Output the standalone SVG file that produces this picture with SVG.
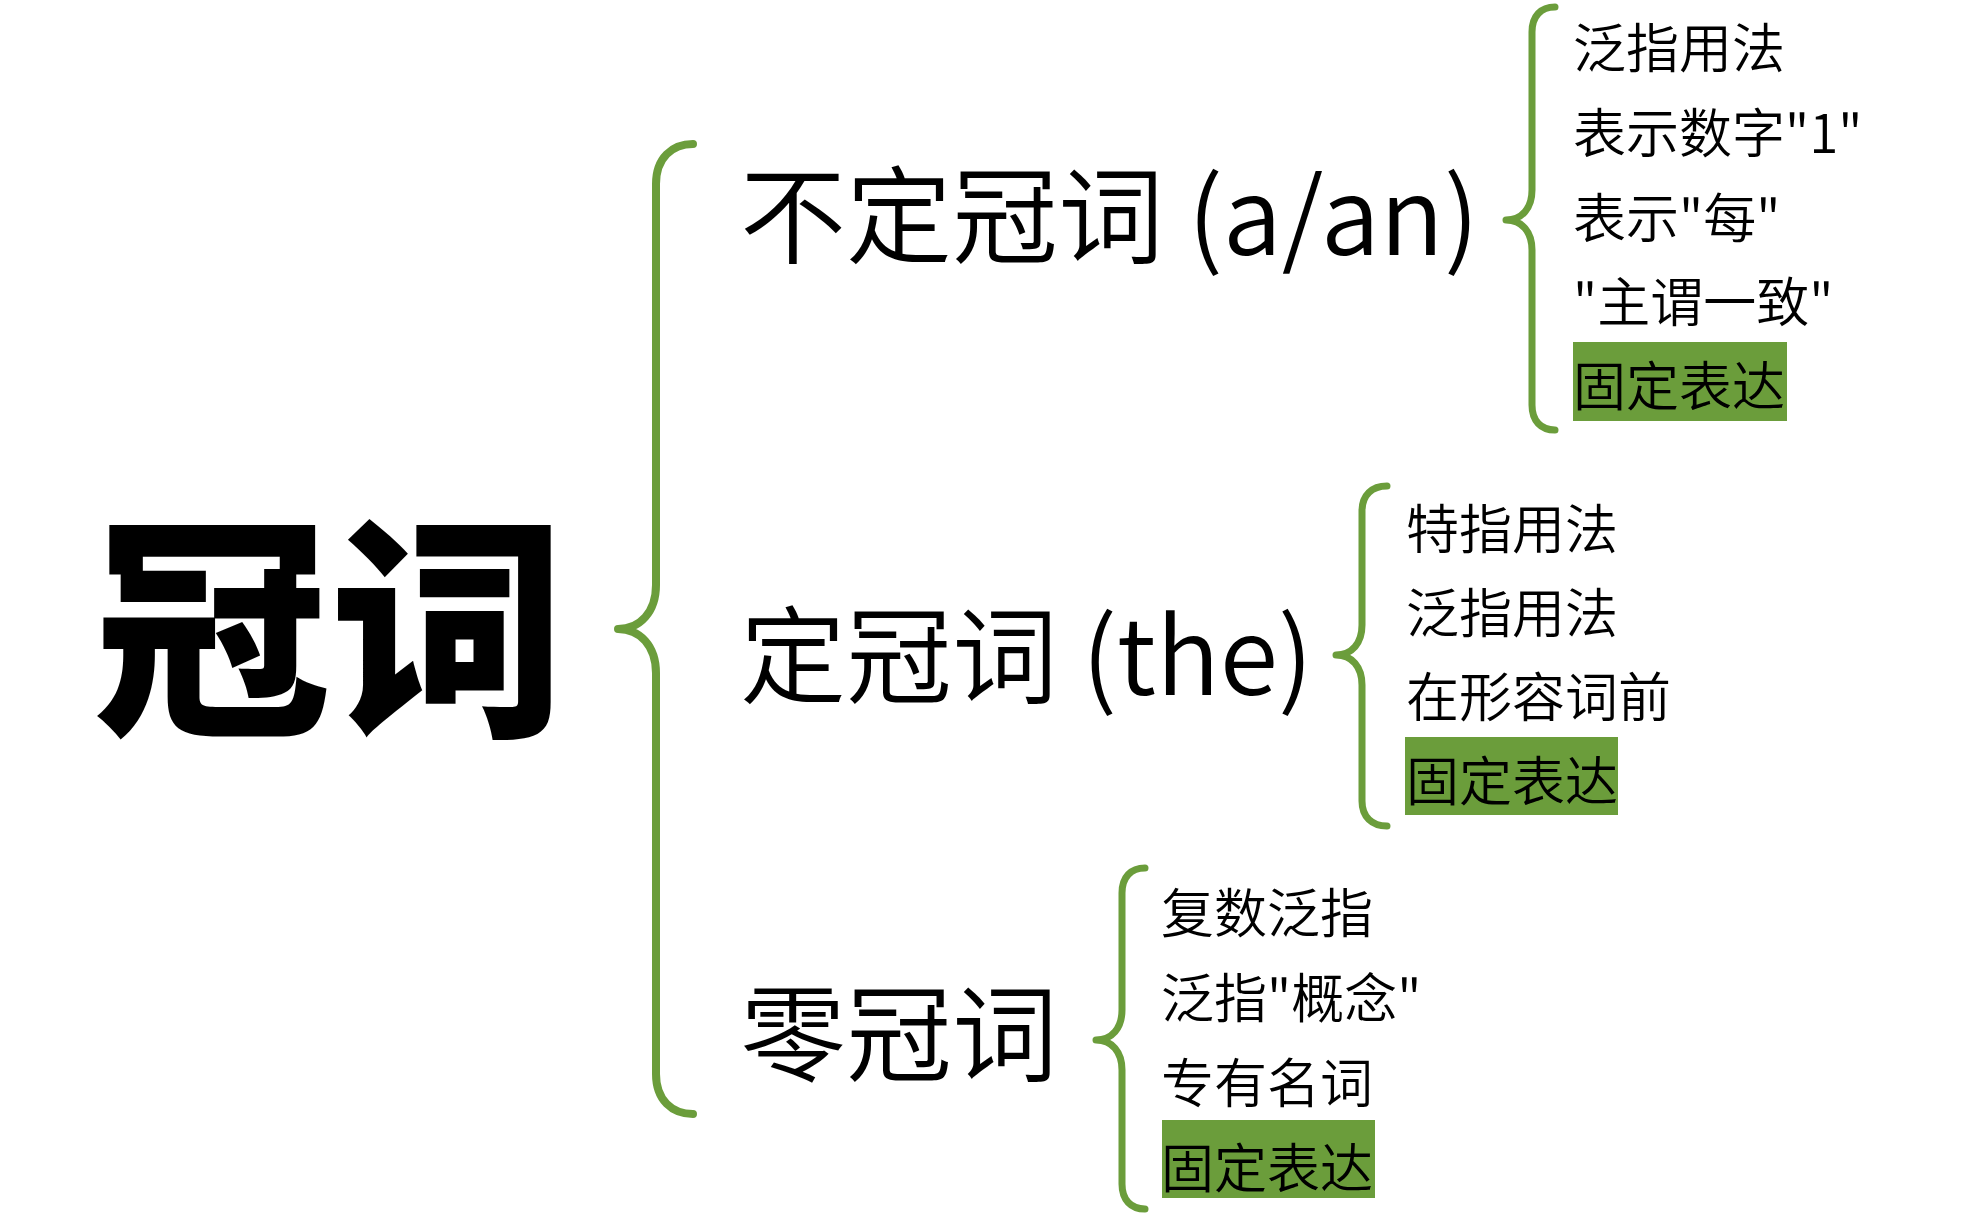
<svg xmlns="http://www.w3.org/2000/svg" width="1973" height="1225" viewBox="0 0 1973 1225">
<style>
.cjk{font-family:"Noto Sans CJK SC","Noto Sans",sans-serif;fill:#000;}
.root{font-size:236px;font-weight:900;}
.cat{font-size:106px;font-weight:350;}
.item{font-size:53px;font-weight:350;}
.hl{fill:#6B9D3B;}
.brace{fill:none;stroke:#6B9D3B;stroke-linecap:round;stroke-linejoin:round;}
.main{stroke-width:8;}
.sub{stroke-width:7;}
</style>
<rect width="1973" height="1225" fill="#fff"/>
<g id="connectors">
<path class="brace main" d="M693,144 C672,144 656,158 656,184 L656,585 C656,612 640,629 618,629 C640,629 656,646 656,673 L656,1074 C656,1100 672,1114 693,1114"/>
<path class="brace sub" d="M1555,7 C1541,7 1532,16 1532,32 L1532,190 C1532,208 1522,220 1506,220 C1522,220 1532,232 1532,250 L1532,405 C1532,421 1541,430 1555,430"/>
<path class="brace sub" d="M1387,486 C1372,486 1362,495 1362,511 L1362,625 C1362,643 1352,655 1336,655 C1352,655 1362,667 1362,685 L1362,801 C1362,817 1372,826 1387,826"/>
<path class="brace sub" d="M1145,868 C1131,868 1122,877 1122,893 L1122,1010 C1122,1028 1112,1040 1096,1040 C1112,1040 1122,1052 1122,1070 L1122,1184 C1122,1200 1131,1209 1145,1209"/>
</g>
<g id="root">
<text class="cjk root" x="94" y="718">冠词</text>
</g>
<g id="indefinite">
<text class="cjk cat" x="740" y="255">不定冠词 (a/an)</text>
</g>
<g id="definite">
<text class="cjk cat" x="740" y="695">定冠词 (the)</text>
</g>
<g id="zero">
<text class="cjk cat" x="740" y="1073">零冠词</text>
</g>
<g id="indefinite-items">
<text class="cjk item" x="1573" y="68">泛指用法</text>
<text class="cjk item" x="1573" y="153">表示数字"1"</text>
<text class="cjk item" x="1573" y="238">表示"每"</text>
<text class="cjk item" x="1573" y="322">"主谓一致"</text>
<rect class="hl" x="1573" y="342" width="214" height="79"/>
<text class="cjk item" x="1573" y="406">固定表达</text>
</g>
<g id="definite-items">
<text class="cjk item" x="1406" y="549">特指用法</text>
<text class="cjk item" x="1406" y="633">泛指用法</text>
<text class="cjk item" x="1406" y="717">在形容词前</text>
<rect class="hl" x="1405" y="737" width="213" height="78"/>
<text class="cjk item" x="1406" y="801">固定表达</text>
</g>
<g id="zero-items">
<text class="cjk item" x="1161" y="933">复数泛指</text>
<text class="cjk item" x="1161" y="1018">泛指"概念"</text>
<text class="cjk item" x="1161" y="1103">专有名词</text>
<rect class="hl" x="1162" y="1120" width="213" height="78"/>
<text class="cjk item" x="1161" y="1188">固定表达</text>
</g>
</svg>
